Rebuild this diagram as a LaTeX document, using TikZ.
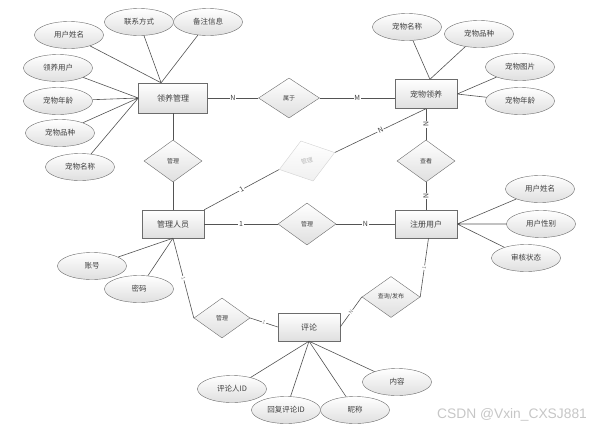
\documentclass[tikz,border=0pt]{standalone}
\usepackage{fontspec}
\setmainfont{Noto Sans CJK SC}
\newfontfamily\wmfont{Liberation Sans}
\usetikzlibrary{shapes.geometric}

\begin{document}
\begin{tikzpicture}[x=1pt, y=-1pt,
      every node/.style = {text=black!75},
      entity/.style = {shape=rectangle, draw=gray!85!black,
        minimum width=62pt, minimum height=29pt,
        top color=white, bottom color=gray!25,
        font=\fontsize{8}{9}\selectfont},
      attrib/.style = {shape=ellipse, draw=gray!85!black, inner sep=0pt,
        minimum width=69pt, minimum height=27pt,
        top color=white, bottom color=gray!25,
        font=\fontsize{7.5}{8}\selectfont},
      relation/.style = {shape=diamond, draw=gray!85!black, inner sep=0pt,
        minimum width=58pt, minimum height=42pt,
        top color=white, bottom color=gray!25,
        font=\fontsize{6}{7}\selectfont},
      faded/.style = {draw=gray!35, bottom color=gray!12, text=gray!55},
      lbl/.style = {fill=white, inner sep=0.8pt, sloped,
        font=\fontsize{7}{8}\selectfont},
      small/.style = {font=\fontsize{5}{6}\selectfont, text=gray},
      link/.style = {draw=gray!65!black, line width=0.6pt}]
  \useasboundingbox (0,0) rectangle (600,434);

  % entities and relations
  \node[entity, minimum width=69pt, minimum height=30pt] (lygl) at (173,98) {领养管理};
  \node[relation, minimum width=61pt, minimum height=40pt] (sy) at (289,98) {属于};
  \node[entity] (cwly) at (426,94) {宠物领养};
  \node[relation] (gl1) at (173,161) {管理};
  \node[relation, faded, rotate=17] (gl3) at (307,161) {管理};
  \node[relation] (ck) at (426,161) {查看};
  \node[entity, minimum height=28pt] (glry) at (173,224) {管理人员};
  \node[relation] (gl2) at (307,224) {管理};
  \node[entity, minimum height=28pt] (zcyh) at (426,224) {注册用户};
  \node[relation, minimum width=56pt, minimum height=40pt] (gl4) at (222,318) {管理};
  \node[entity, minimum height=28pt] (pl) at (309,327) {评论};
  \node[relation, minimum height=41pt] (cxfb) at (391,297) {查询/发布};

  % attributes
  \node[attrib] (a1) at (69,35) {用户姓名};
  \node[attrib] (a2) at (139,22) {联系方式};
  \node[attrib] (a3) at (208,22) {备注信息};
  \node[attrib] (a4) at (58,68) {领养用户};
  \node[attrib] (a5) at (58,101) {宠物年龄};
  \node[attrib] (a6) at (60,133) {宠物品种};
  \node[attrib] (a7) at (80,167) {宠物名称};
  \node[attrib] (b1) at (407,27) {宠物名称};
  \node[attrib] (b2) at (479,34) {宠物品种};
  \node[attrib] (b3) at (520,67) {宠物图片};
  \node[attrib] (b4) at (520,101) {宠物年龄};
  \node[attrib] (c1) at (540,189) {用户姓名};
  \node[attrib] (c2) at (541,224) {用户性别};
  \node[attrib] (c3) at (526,258) {审核状态};
  \node[attrib] (d1) at (92,266) {账号};
  \node[attrib] (d2) at (139,289) {密码};
  \node[attrib] (e1) at (232,389) {评论人ID};
  \node[attrib] (e2) at (286,410) {回复评论ID};
  \node[attrib] (e3) at (355,410) {昵称};
  \node[attrib] (e4) at (397,382) {内容};

  % attribute links
  \draw[link] (a1) -- (lygl.128) (a2) -- (lygl.128) (a3) -- (lygl.128)
    (a4) -- (lygl.west) (a5) -- (lygl.west) (a6) -- (lygl.west) (a7) -- (lygl.west);
  \draw[link] (b1) -- (cwly.75) (b2) -- (cwly.75) (b3) -- (cwly.east) (b4) -- (cwly.east);
  \draw[link] (c1) -- (zcyh.east) (c2) -- (zcyh.east) (c3) -- (zcyh.east);
  \draw[link] (d1) -- (glry.south) (d2) -- (glry.south);
  \draw[link] (e1) -- (pl.south) (e2) -- (pl.south) (e3) -- (pl.south) (e4) -- (pl.south);

  % relation links
  \draw[link] (lygl) -- node[lbl] {N} (sy);
  \draw[link] (sy.east) -- node[lbl] {M} (sy.east -| cwly.west);
  \draw[link] (lygl) -- (gl1) -- (glry);
  \draw[link] (cwly) -- node[lbl] {N} (ck);
  \draw[link] (ck) -- node[lbl] {N} (zcyh);
  \draw[link] (glry.north east) -- node[lbl] {1} (gl3.west);
  \draw[link] (gl3.east) -- node[lbl] {N} (cwly.south);
  \draw[link] (glry) -- node[lbl] {1} (gl2);
  \draw[link] (gl2) -- node[lbl] {N} (zcyh);
  \draw[link] (glry.south) -- node[lbl, small] {1} (gl4.west);
  \draw[link] (gl4.east) -- node[lbl, small] {1} (pl.west);
  \draw[link] (pl.east) -- node[lbl, small] {N} (cxfb.west);
  \draw[link] (cxfb.east) -- node[lbl, small] {1} (zcyh.-80);

  \node[font=\wmfont\fontsize{13.8}{15}\selectfont, text=gray!45] (wm) at (512,415) {CSDN @Vxin\_CXSJ881};
\end{tikzpicture}
\end{document}
